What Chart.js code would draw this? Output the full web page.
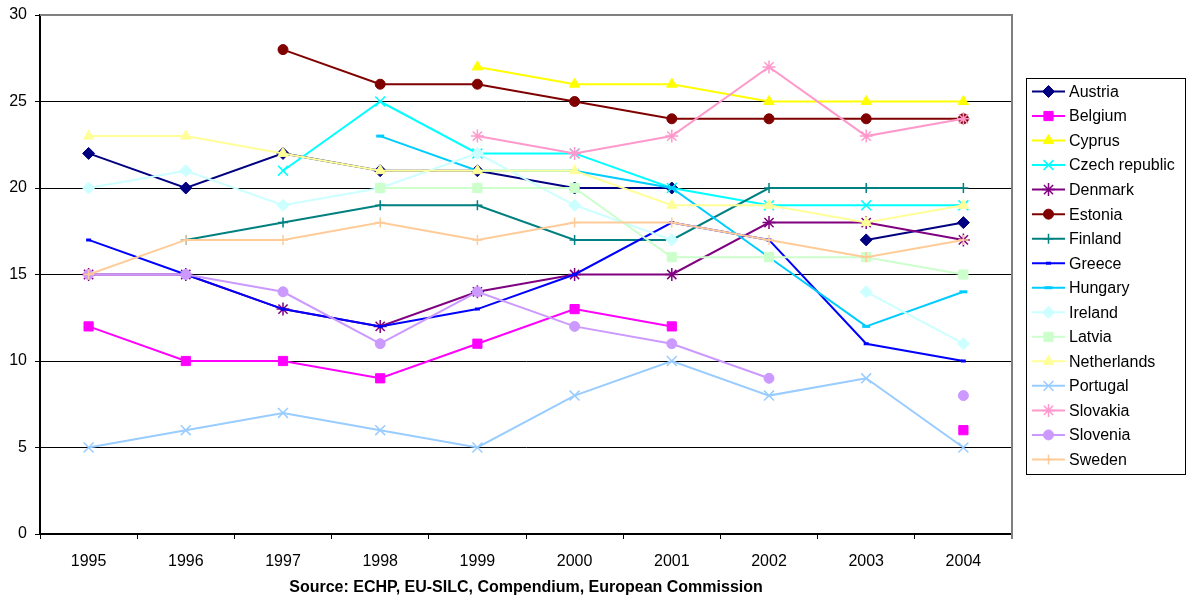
<!DOCTYPE html>
<html>
<head>
<meta charset="utf-8">
<script src="https://cdn.jsdelivr.net/npm/chart.js@4.4.0/dist/chart.umd.min.js"></script>
<style>
  html, body { margin: 0; padding: 0; background: #fff; }
  #c { display: block; }
</style>
</head>
<body>
<canvas id="c" width="1187" height="598"></canvas>
<script>
// years on the x axis
const years = ['1995', '1996', '1997', '1998', '1999', '2000', '2001', '2002', '2003', '2004']

// values (null = no data point)
const austria     = [22, 20, 22, 21, 21, 20, 20, null, 17, 18]
const belgium     = [12, 10, 10, 9, 11, 13, 12, null, null, 6]
const cyprus      = [null, null, null, null, 27, 26, 26, 25, 25, 25]
const czech       = [null, null, 21, 25, 22, 22, 20, 19, 19, 19]
const denmark     = [15, 15, 13, 12, 14, 15, 15, 18, 18, 17]
const estonia     = [null, null, 28, 26, 26, 25, 24, 24, 24, 24]
const finland     = [null, 17, 18, 19, 19, 17, 17, 20, 20, 20]
const greece      = [17, 15, 13, 12, 13, 15, 18, 17, 11, 10]
const hungary     = [null, null, null, 23, 21, 21, 20, 16, 12, 14]
const ireland     = [20, 21, 19, 20, 22, 19, 17, null, 14, 11]
const latvia      = [null, null, null, 20, 20, 20, 16, 16, 16, 15]
const netherlands = [23, 23, 22, 21, 21, 21, 19, 19, 18, 19]
const portugal    = [5, 6, 7, 6, 5, 8, 10, 8, 9, 5]
const slovakia    = [null, null, null, null, 23, 22, 23, 27, 23, 24]
const slovenia    = [15, 15, 14, 11, 14, 12, 11, 9, null, 8]
const sweden      = [15, 17, 17, 18, 17, 18, 18, 17, 16, 17]

const yTicks = [0, 5, 10, 15, 20, 25, 30]
const sourceText = 'Source: ECHP, EU-SILC, Compendium, European Commission'

const FONT = "'Liberation Sans', Arial, sans-serif"

// name, data, colour, marker, marker radius, marker line width
const series = [
    ['Austria', austria, '#000080', 'rectRot', 6, 1],
    ['Belgium', belgium, '#FF00FF', 'rect', 6.5, 1],
    ['Cyprus', cyprus, '#FFFF00', 'triangle', 6, 1],
    ['Czech republic', czech, '#00FFFF', 'crossRot', 7, 1.5],
    ['Denmark', denmark, '#800080', 'star', 6.5, 1.5],
    ['Estonia', estonia, '#800000', 'circle', 5, 1],
    ['Finland', finland, '#008080', 'cross', 5, 1.5],
    ['Greece', greece, '#0000FF', 'line', 2.5, 3],
    ['Hungary', hungary, '#00CCFF', 'line', 4, 3],
    ['Ireland', ireland, '#CCFFFF', 'rectRot', 6, 1],
    ['Latvia', latvia, '#CCFFCC', 'rect', 6.5, 1],
    ['Netherlands', netherlands, '#FFFF99', 'triangle', 6, 1],
    ['Portugal', portugal, '#99CCFF', 'crossRot', 7, 1.5],
    ['Slovakia', slovakia, '#FF99CC', 'star', 6.5, 1.5],
    ['Slovenia', slovenia, '#CC99FF', 'circle', 5, 1],
    ['Sweden', sweden, '#FFCC99', 'cross', 5, 1.5]
]

let datasets = series.map((s, i) => ({
    label: s[0],
    data: s[1],
    borderColor: s[2],
    backgroundColor: s[2],
    borderWidth: 2,
    pointStyle: s[3],
    pointRadius: s[4],
    pointHoverRadius: s[4],
    pointBorderWidth: s[5],
    pointBackgroundColor: s[2],
    pointBorderColor: s[2],
    spanGaps: false,
    tension: 0,
    order: series.length - i   // later series drawn on top, like the original
}))

// grey frame on top and right of the plot
const framePlugin = {
    id: 'frame',
    beforeDatasetsDraw(chart) {
        let a = chart.chartArea
        let ctx = chart.ctx
        ctx.save()
        ctx.strokeStyle = '#808080'
        ctx.lineWidth = 2
        ctx.beginPath()
        ctx.moveTo(a.left, a.top)
        ctx.lineTo(a.right, a.top)
        ctx.lineTo(a.right, a.bottom + 5)
        ctx.stroke()
        ctx.restore()
    }
}

// legend box on the right, with line + marker samples
const legendPlugin = {
    id: 'sideLegend',
    afterDraw(chart) {
        let ctx = chart.ctx
        let boxL = 1026, boxT = 78, boxR = 1185, boxB = 474
        let firstY = 91.5, step = 24.53
        ctx.save()
        ctx.strokeStyle = '#000'
        ctx.lineWidth = 1
        ctx.strokeRect(boxL + 0.5, boxT + 0.5, boxR - boxL, boxB - boxT)
        ctx.font = '16px ' + FONT
        ctx.textBaseline = 'middle'
        ctx.textAlign = 'left'
        series.forEach((s, i) => {
            let y = firstY + i * step
            ctx.strokeStyle = s[2]
            ctx.fillStyle = s[2]
            ctx.lineWidth = 2
            ctx.beginPath()
            ctx.moveTo(1032, y)
            ctx.lineTo(1065, y)
            ctx.stroke()
            ctx.lineWidth = s[5]
            Chart.helpers.drawPoint(ctx, {
                pointStyle: s[3], radius: s[4], rotation: 0, borderWidth: s[5]
            }, 1048.5, y)
            ctx.fillStyle = '#000'
            ctx.fillText(s[0], 1069, y + 1)
        })
        ctx.restore()
    }
}

let ctx = document.getElementById('c').getContext('2d')
let chart = new Chart(ctx, {
    type: 'line',
    data: { labels: years, datasets: datasets },
    options: {
        responsive: false,
        animation: false,
        events: [],
        layout: { autoPadding: false, padding: { top: 15, right: 175, left: 0, bottom: 0 } },
        plugins: {
            legend: { display: false },
            tooltip: { enabled: false }
        },
        scales: {
            x: {
                offset: true,
                grid: {
                    offset: true,
                    drawOnChartArea: false,
                    drawTicks: true,
                    tickLength: 5,
                    color: '#000',
                    lineWidth: 1
                },
                border: { display: true, color: '#000', width: 2 },
                ticks: {
                    color: '#000',
                    font: { family: FONT, size: 16 },
                    padding: 13,
                    maxRotation: 0,
                    autoSkip: false
                },
                title: {
                    display: true,
                    text: sourceText,
                    color: '#000',
                    font: { family: FONT, size: 16, weight: 'bold' },
                    padding: { top: 0, bottom: 1 }
                },
                afterFit(scale) { scale.height = 64 }
            },
            y: {
                min: 0,
                max: 30,
                afterBuildTicks(scale) { scale.ticks = yTicks.map(v => ({ value: v })) },
                grid: {
                    color: c => (c.tick && c.tick.value === 30) ? '#808080' : '#000',
                    tickColor: '#000',
                    lineWidth: 1,
                    drawTicks: true,
                    tickLength: 5
                },
                border: { display: true, color: '#000', width: 2 },
                ticks: {
                    color: '#000',
                    font: { family: FONT, size: 16 },
                    padding: 8
                },
                afterFit(scale) {
                    scale.width = 40
                    scale.paddingTop = 0
                    scale.paddingBottom = 0
                }
            }
        }
    },
    plugins: [framePlugin, legendPlugin]
})
</script>
</body>
</html>
